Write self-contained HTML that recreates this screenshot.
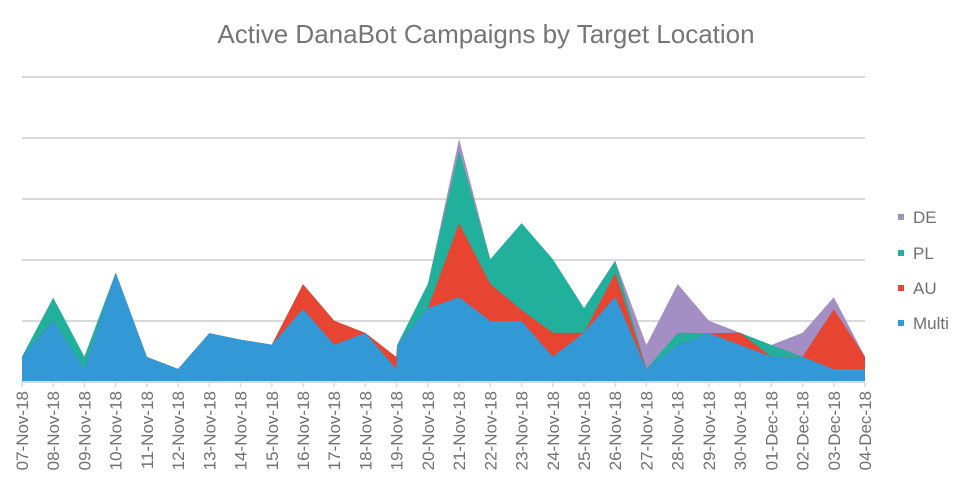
<!DOCTYPE html>
<html><head><meta charset="utf-8"><style>
body{margin:0;background:#fff;}
text{font-family:"Liberation Sans",sans-serif;}
</style></head><body>
<svg width="974" height="487" viewBox="0 0 974 487" xmlns="http://www.w3.org/2000/svg">
<rect width="974" height="487" fill="#fff"/>
<text x="486" y="43" text-anchor="middle" font-size="26" fill="#757575">Active DanaBot Campaigns by Target Location</text>
<g stroke="#d9d9d9" stroke-width="2">
<line x1="22" y1="77" x2="865" y2="77"/>
<line x1="22" y1="138" x2="865" y2="138"/>
<line x1="22" y1="199" x2="865" y2="199"/>
<line x1="22" y1="260" x2="865" y2="260"/>
<line x1="22" y1="321" x2="865" y2="321"/>
</g>
<polygon fill="#a38fc4" points="22,381 22,356.7 53.2,297.7 84.4,356.7 115.7,272.7 146.9,357 178.1,369 209.3,333.3 240.6,339.7 271.8,344.7 303,284.3 334.2,320.7 365.4,333 396.2,357 397.2,345 427.9,284 459.1,139 490.3,259.3 521.6,223.3 552.8,259.3 584,308.3 615.2,260.7 646.4,345 677.7,284 708.9,320.7 740.1,332.7 771.3,345 802.6,332.7 833.8,297.3 865,356.7 865,381"/>
<polygon fill="#20b09b" points="22,381 22,356.7 53.2,297.7 84.4,356.7 115.7,272.7 146.9,357 178.1,369 209.3,333.3 240.6,339.7 271.8,344.7 303,284.3 334.2,320.7 365.4,333 396.2,357 397.2,345 427.9,284 459.1,150.7 490.3,259.3 521.6,223.3 552.8,259.3 584,308.3 615.2,260.7 646.4,369 677.7,332.7 708.9,333.3 740.1,332.7 771.3,345 802.6,356.7 833.8,309.3 865,356.7 865,381"/>
<polygon fill="#e74431" points="22,381 22,356.7 53.2,320.7 84.4,369 115.7,272.7 146.9,357 178.1,369 209.3,333.3 240.6,339.7 271.8,344.7 303,284.3 334.2,320.7 365.4,333 396.2,357 397.2,345 427.9,308.3 459.1,223.3 490.3,284 521.6,310 552.8,332.7 584,332.7 615.2,272.7 646.4,369 677.7,345 708.9,333.3 740.1,332.7 771.3,356.7 802.6,356.7 833.8,309.3 865,356.7 865,381"/>
<polygon fill="#3398d6" points="22,381 22,356.7 53.2,320.7 84.4,369 115.7,272.7 146.9,357 178.1,369 209.3,333.3 240.6,339.7 271.8,344.7 303,309 334.2,344.7 365.4,333 396.2,369 397.2,345 427.9,308.3 459.1,297.3 490.3,321 521.6,321 552.8,356.7 584,332.7 615.2,296.7 646.4,369 677.7,345 708.9,333.3 740.1,345 771.3,356.7 802.6,356.7 833.8,369.3 865,369.3 865,381"/>
<line x1="22" y1="382" x2="865" y2="382" stroke="#d9d9d9" stroke-width="2"/>
<g stroke="#d9d9d9" stroke-width="1.5">
<line x1="22" y1="382" x2="22" y2="387"/><line x1="53.2" y1="382" x2="53.2" y2="387"/><line x1="84.4" y1="382" x2="84.4" y2="387"/><line x1="115.7" y1="382" x2="115.7" y2="387"/><line x1="146.9" y1="382" x2="146.9" y2="387"/><line x1="178.1" y1="382" x2="178.1" y2="387"/><line x1="209.3" y1="382" x2="209.3" y2="387"/><line x1="240.6" y1="382" x2="240.6" y2="387"/><line x1="271.8" y1="382" x2="271.8" y2="387"/><line x1="303" y1="382" x2="303" y2="387"/><line x1="334.2" y1="382" x2="334.2" y2="387"/><line x1="365.4" y1="382" x2="365.4" y2="387"/><line x1="396.7" y1="382" x2="396.7" y2="387"/><line x1="427.9" y1="382" x2="427.9" y2="387"/><line x1="459.1" y1="382" x2="459.1" y2="387"/><line x1="490.3" y1="382" x2="490.3" y2="387"/><line x1="521.6" y1="382" x2="521.6" y2="387"/><line x1="552.8" y1="382" x2="552.8" y2="387"/><line x1="584" y1="382" x2="584" y2="387"/><line x1="615.2" y1="382" x2="615.2" y2="387"/><line x1="646.4" y1="382" x2="646.4" y2="387"/><line x1="677.7" y1="382" x2="677.7" y2="387"/><line x1="708.9" y1="382" x2="708.9" y2="387"/><line x1="740.1" y1="382" x2="740.1" y2="387"/><line x1="771.3" y1="382" x2="771.3" y2="387"/><line x1="802.6" y1="382" x2="802.6" y2="387"/><line x1="833.8" y1="382" x2="833.8" y2="387"/><line x1="865" y1="382" x2="865" y2="387"/>
</g>
<g font-size="17" fill="#707070" text-anchor="end">
<text transform="translate(28,391) rotate(-90)">07-Nov-18</text>
<text transform="translate(59.2,391) rotate(-90)">08-Nov-18</text>
<text transform="translate(90.4,391) rotate(-90)">09-Nov-18</text>
<text transform="translate(121.7,391) rotate(-90)">10-Nov-18</text>
<text transform="translate(152.9,391) rotate(-90)">11-Nov-18</text>
<text transform="translate(184.1,391) rotate(-90)">12-Nov-18</text>
<text transform="translate(215.3,391) rotate(-90)">13-Nov-18</text>
<text transform="translate(246.6,391) rotate(-90)">14-Nov-18</text>
<text transform="translate(277.8,391) rotate(-90)">15-Nov-18</text>
<text transform="translate(309,391) rotate(-90)">16-Nov-18</text>
<text transform="translate(340.2,391) rotate(-90)">17-Nov-18</text>
<text transform="translate(371.4,391) rotate(-90)">18-Nov-18</text>
<text transform="translate(402.7,391) rotate(-90)">19-Nov-18</text>
<text transform="translate(433.9,391) rotate(-90)">20-Nov-18</text>
<text transform="translate(465.1,391) rotate(-90)">21-Nov-18</text>
<text transform="translate(496.3,391) rotate(-90)">22-Nov-18</text>
<text transform="translate(527.6,391) rotate(-90)">23-Nov-18</text>
<text transform="translate(558.8,391) rotate(-90)">24-Nov-18</text>
<text transform="translate(590,391) rotate(-90)">25-Nov-18</text>
<text transform="translate(621.2,391) rotate(-90)">26-Nov-18</text>
<text transform="translate(652.4,391) rotate(-90)">27-Nov-18</text>
<text transform="translate(683.7,391) rotate(-90)">28-Nov-18</text>
<text transform="translate(714.9,391) rotate(-90)">29-Nov-18</text>
<text transform="translate(746.1,391) rotate(-90)">30-Nov-18</text>
<text transform="translate(777.3,391) rotate(-90)">01-Dec-18</text>
<text transform="translate(808.6,391) rotate(-90)">02-Dec-18</text>
<text transform="translate(839.8,391) rotate(-90)">03-Dec-18</text>
<text transform="translate(871,391) rotate(-90)">04-Dec-18</text>
</g>
<g font-size="17" fill="#707070">
<rect x="898" y="214" width="6" height="6" fill="#a38fc4"/><text x="913" y="223">DE</text>
<rect x="898" y="250" width="6" height="6" fill="#20b09b"/><text x="913" y="259">PL</text>
<rect x="898" y="285" width="6" height="6" fill="#e74431"/><text x="913" y="294">AU</text>
<rect x="898" y="320" width="6" height="6" fill="#3398d6"/><text x="913" y="329">Multi</text>
</g>
</svg>
</body></html>
